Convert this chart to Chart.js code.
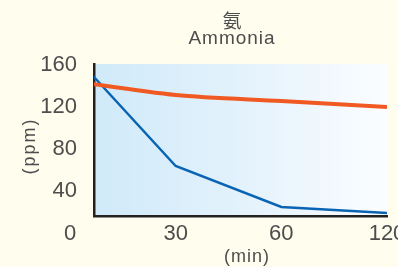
<!DOCTYPE html>
<html>
<head>
<meta charset="utf-8">
<script src="https://cdn.jsdelivr.net/npm/chart.js@4/dist/chart.umd.min.js"></script>
<style>
  html, body { margin: 0; padding: 0; background: #fffdee; }
  #wrap { width: 398px; height: 267px; position: relative; }
</style>
</head>
<body>
<div id="wrap"><canvas id="c" width="398" height="267"></canvas></div>
<script>
// ---- data ----
const categories = ["0", "30", "60", "120"];           // minutes (equally spaced categories)
const blueValues = [173, 63.3, 24.3, 18.6];              // ppm
const orangeValues = [144.5, 131, 125.2, 119.5];         // ppm
const yTickValues = [40, 80, 120, 160];
const titleLines = ["氨", "Ammonia"];
const yTitle = "(ppm)";
const xTitle = "(min)";

const textColor = "#4d4d4d";

const bgPlugin = {
  id: "bg",
  beforeDraw(chart) {
    const { ctx, chartArea: a } = chart;
    ctx.save();
    const g = ctx.createLinearGradient(a.left, 0, a.right, 0);
    g.addColorStop(0, "#d0eaf9");
    g.addColorStop(0.5, "#e3f2fc");
    g.addColorStop(1, "#fbfdff");
    ctx.fillStyle = g;
    ctx.fillRect(a.left, a.top, a.right - a.left, a.bottom - a.top);
    ctx.restore();
  }
};

const textPlugin = {
  id: "texts",
  afterDraw(chart) {
    const { ctx, chartArea: a } = chart;
    ctx.save();
    ctx.fillStyle = textColor;
    ctx.textAlign = "center";
    ctx.textBaseline = "middle";
    ctx.font = '19px "Noto Sans CJK SC"';
    ctx.fillText(titleLines[0], 232, 21);
    ctx.font = '19px "Liberation Sans"';
    ctx.letterSpacing = "1px";
    ctx.fillText(titleLines[1], 232, 39);
    ctx.font = '18px "Liberation Sans"';
    ctx.fillText(xTitle, 247, 257);
    ctx.letterSpacing = "2px";
    ctx.translate(30, 146);
    ctx.rotate(-Math.PI / 2);
    ctx.fillText(yTitle, 0, 0);
    ctx.restore();
  }
};

const xMin = 0.227;
const xMax = categories.length - 1;

new Chart(document.getElementById("c"), {
  type: "line",
  data: {
    datasets: [
      {
        data: orangeValues.map((v, i) => ({ x: i, y: v })),
        borderColor: "#f05a22",
        borderWidth: 4,
        tension: 0.3,
        pointRadius: 0,
        clip: 0
      },
      {
        data: blueValues.map((v, i) => ({ x: i, y: v })),
        borderColor: "#0a64b4",
        borderWidth: 2.5,
        tension: 0,
        pointRadius: 0,
        clip: 0
      }
    ]
  },
  options: {
    responsive: false,
    animation: false,
    devicePixelRatio: 1,
    layout: { padding: { top: 64, right: 11, left: 0, bottom: 0 } },
    plugins: { legend: { display: false }, tooltip: { enabled: false }, title: { display: false } },
    scales: {
      x: {
        type: "linear",
        bounds: "data",
        min: xMin,
        max: xMax,
        grid: { display: false, drawTicks: false },
        border: { display: true, color: "#222", width: 2.5 },
        ticks: {
          autoSkip: false,
          maxRotation: 0,
          padding: 5,
          color: textColor,
          font: { family: "Liberation Sans", size: 22 },
          callback: (v) => categories[v]
        },
        afterBuildTicks(scale) {
          scale.ticks = categories.map((c, i) => ({ value: i }));
        },
        afterFit(scale) {
          scale.height = 51;
          scale.paddingLeft = 0;
          scale.paddingRight = 0;
        }
      },
      y: {
        type: "linear",
        bounds: "data",
        min: 15.7,
        max: 160.5,
        grid: { display: false, drawTicks: false },
        border: { display: true, color: "#222", width: 2.5 },
        ticks: {
          padding: 17,
          color: textColor,
          font: { family: "Liberation Sans", size: 22 }
        },
        afterBuildTicks(scale) {
          scale.ticks = yTickValues.map(v => ({ value: v }));
        },
        afterFit(scale) {
          scale.width = 94;
          scale.paddingTop = 0;
          scale.paddingBottom = 0;
        }
      }
    }
  },
  plugins: [bgPlugin, textPlugin]
});
</script>
</body>
</html>
